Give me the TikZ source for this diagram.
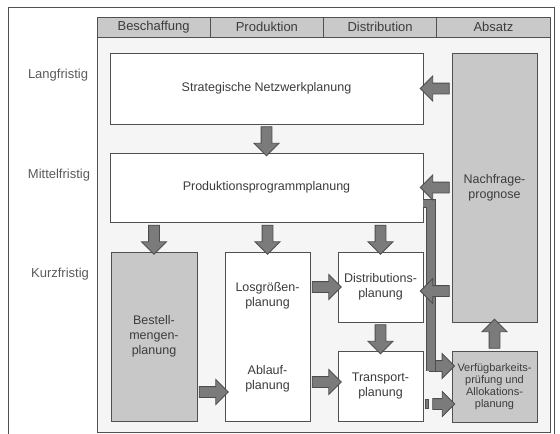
\documentclass[tikz,border=0pt]{standalone}
\usepackage{fontspec}
\setmainfont{Liberation Sans}
\usetikzlibrary{shapes.arrows}
\definecolor{rand}{HTML}{505050}
\definecolor{kopfgrau}{HTML}{C9C9C9}
\definecolor{boxgrau}{HTML}{C8C8C8}
\definecolor{hinter}{HTML}{F5F5F5}
\definecolor{pfeilgrau}{HTML}{7B7B7B}
\definecolor{pfeilrand}{HTML}{4D4D4D}
\definecolor{schrift}{HTML}{3C3C3C}
\definecolor{zeitgrau}{HTML}{5A5A5A}
\begin{document}
\begin{tikzpicture}[
		x=1pt, y=-1pt,
		box/.style={draw=rand, fill=white, line width=0.8pt, minimum width=85pt, inner sep=0pt, align=center, text=schrift, font=\fontsize{12.5}{15}\selectfont},
		graubox/.style={box, fill=boxgrau},
		txt/.style={align=center, text=schrift, font=\fontsize{12.5}{15}\selectfont},
		kopf/.style={draw=rand, fill=kopfgrau, line width=0.8pt, minimum width=113.25pt, minimum height=20pt, inner sep=0pt, text=schrift, font=\fontsize{13}{15}\selectfont},
		zeit/.style={text=zeitgrau, font=\fontsize{13}{15}\selectfont},
		pfeil/.style={single arrow, draw=pfeilrand, fill=pfeilgrau, line width=0.8pt, inner xsep=0pt, inner ysep=5pt, minimum width=0pt, minimum height=29pt, single arrow head extend=7pt, midway, sloped, allow upside down},
		balken/.style={draw=pfeilrand, line width=0.8pt, double=pfeilgrau, double distance=7.5pt}]
	%% frame
	\useasboundingbox (0,0) rectangle (560,434);
	\draw[rand, line width=0.8pt] (8,440) -- (8,7) -- (554,7) -- (554,440);
	\draw[rand, line width=0.8pt, fill=hinter] (97,17) rectangle (550,432);
	%% header
	\node[kopf] (beschaffung) at (153.6,27) {Beschaffung};
	\node[kopf] (produktion) at (266.9,27) {Produktion};
	\node[kopf] (distribution) at (380.1,27) {Distribution};
	\node[kopf] (absatz) at (493.4,27) {Absatz};
	%% planning horizons
	\node[zeit] (lang) at (58,75) {Langfristig};
	\node[zeit] (mittel) at (59,175) {Mittelfristig};
	\node[zeit] (kurz) at (60,274) {Kurzfristig};
	%% planning boxes
	\node[box, minimum width=313pt, minimum height=71pt] (snp) at (266.5,88.5) {Strategische Netzwerkplanung};
	\node[box, minimum width=313pt, minimum height=69pt] (ppp) at (266.5,187.5) {Produktionsprogrammplanung};
	\node[graubox, minimum height=269pt] (nfp) at (494.5,187.5) {Nachfrage-\\prognose};
	\node[graubox, minimum width=86pt, minimum height=169pt] (bmp) at (154,336.5) {Bestell-\\mengen-\\planung};
	\node[box, minimum height=169pt] (lap) at (267.5,336.5) {};
	\node[txt] (los) at ([yshift=41pt]lap.center) {Losgrößen-\\planung};
	\node[txt] (ablauf) at ([yshift=-42pt]lap.center) {Ablauf-\\planung};
	\node[box, minimum height=70pt] (dis) at (380.5,287) {Distributions-\\planung};
	\node[box, minimum height=70pt] (tra) at (380.5,386) {Transport-\\planung};
	\node[graubox, minimum height=71pt, font=\fontsize{11}{12}\selectfont] (vap) at (494.5,386.5) {Verfügbarkeits-\\prüfung und\\Allokations-\\planung};
	%% bar down to availability check
	\coordinate (knick) at (431,371);
	\path ([xshift=-4pt,yshift=5pt]knick) -- ([yshift=5pt]knick -| vap.west) node[pfeil, minimum height=25pt] {};
	\draw[balken] ([yshift=-16pt]ppp.east) -| (knick);
	%% arrows
	\path (snp.south) -- (ppp.north) node[pfeil] {};
	\path (ppp.south -| bmp.north) -- (bmp.north) node[pfeil] {};
	\path (ppp.south -| lap.north) -- (lap.north) node[pfeil] {};
	\path (ppp.south -| dis.north) -- (dis.north) node[pfeil] {};
	\path (snp.east -| nfp.west) -- (snp.east) node[pfeil] {};
	\path (ppp.east -| nfp.west) -- (ppp.east) node[pfeil] {};
	\path ([yshift=-4pt]dis.east -| nfp.west) -- ([yshift=-4pt]dis.east) node[pfeil] {};
	\path (dis.west -| lap.east) -- (dis.west) node[pfeil] {};
	\path ([yshift=4pt]tra.west -| lap.east) -- ([yshift=4pt]tra.west) node[pfeil] {};
	\path ([yshift=-6pt]tra.west -| bmp.east) -- ([yshift=-6pt]tra.west -| lap.west) node[pfeil] {};
	\path (dis.south) -- (tra.north) node[pfeil] {};
	\path (vap.north) -- (nfp.south) node[pfeil] {};
	%% broken arrow from transport
	\path ([xshift=7pt,yshift=-18pt]tra.east) -- ([yshift=-18pt]tra.east -| vap.west) node[pfeil, minimum height=22pt] {};
	\draw[draw=pfeilrand, fill=pfeilgrau, line width=0.8pt] ([xshift=1.5pt,yshift=-13.5pt]tra.east) rectangle ++(3pt,-9pt);
\end{tikzpicture}
\end{document}
